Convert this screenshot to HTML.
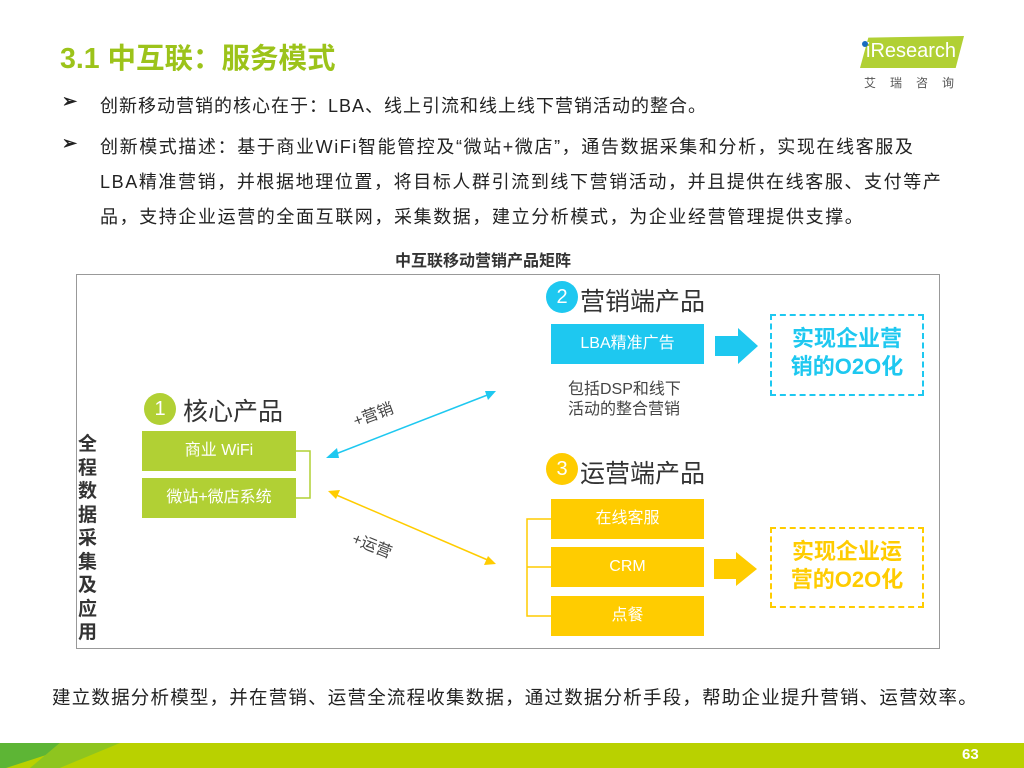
<!DOCTYPE html>
<html><head><meta charset="utf-8"><style>
*{margin:0;padding:0;box-sizing:border-box}
body{width:1024px;height:768px;position:relative;background:#fff;font-family:"Liberation Sans","Noto Sans CJK SC",sans-serif;color:#222;overflow:hidden}
.a{position:absolute;white-space:nowrap}
.box{position:absolute;color:#fff;text-align:center;font-size:16px}
.g{background:#b1d034}.b{background:#1ec8f0}.y{background:#ffcc00}
.circ{position:absolute;width:32px;height:32px;border-radius:50%;color:#fff;font-size:20px;text-align:center;line-height:32px}
.hd{font-size:25px;color:#333}
.dash{position:absolute;border:2px dashed;text-align:center;font-weight:bold;font-size:22px;line-height:28px;padding-top:9px}
.bul{font-size:18px;letter-spacing:1.6px;color:#222}
</style></head><body>
<div class="a" style="left:60px;top:36px;font-size:28.5px;font-weight:bold;color:#9cc31a">3.1 中互联：服务模式</div>
<div class="a" style="left:860px;top:36px;width:104px;height:32px;background:#b1d034;clip-path:polygon(8% 5%,100% 0,92% 100%,0 100%)"></div>
<div class="a" style="left:866px;top:40px;font-size:20px;color:#fff">iResearch</div>
<div class="a" style="left:862px;top:41px;width:6px;height:6px;border-radius:50%;background:#1a6cc0"></div>
<div class="a" style="left:864px;top:74px;font-size:12px;color:#555;letter-spacing:14px">艾瑞咨询</div>

<div class="a bul" style="left:62px;top:91px;font-weight:bold">➢</div>
<div class="a bul" style="left:100px;top:92px;letter-spacing:1px">创新移动营销的核心在于：LBA、线上引流和线上线下营销活动的整合。</div>
<div class="a bul" style="left:62px;top:133px;font-weight:bold">➢</div>
<div class="a bul" style="left:100px;top:130px;line-height:35px">创新模式描述：基于商业WiFi智能管控及“微站+微店”，通告数据采集和分析，实现在线客服及<br>LBA精准营销，并根据地理位置，将目标人群引流到线下营销活动，并且提供在线客服、支付等产<br>品，支持企业运营的全面互联网，采集数据，建立分析模式，为企业经营管理提供支撑。</div>

<div class="a" style="left:395px;top:247px;font-size:16px;font-weight:bold;color:#333">中互联移动营销产品矩阵</div>
<div class="a" style="left:76px;top:274px;width:864px;height:375px;border:1px solid #999"></div>

<div class="a" style="left:78px;top:433px;width:22px;font-size:19px;font-weight:bold;line-height:23.5px;white-space:normal;color:#333">全程数据采集及应用</div>

<div class="circ g" style="left:144px;top:393px">1</div>
<div class="a hd" style="left:183px;top:392px">核心产品</div>
<div class="box g" style="left:142px;top:431px;width:154px;height:40px;line-height:40px">商业 WiFi</div>
<div class="box g" style="left:142px;top:478px;width:154px;height:40px;line-height:40px">微站+微店系统</div>

<svg class="a" style="left:0;top:0" width="1024" height="768">
<polyline points="296,451 310,451 310,498 296,498" fill="none" stroke="#b1d034" stroke-width="1.5"/>
<polyline points="551,519 527,519 527,616 551,616" fill="none" stroke="#ffcc00" stroke-width="1.5"/>
<line x1="551" y1="567" x2="527" y2="567" stroke="#ffcc00" stroke-width="1.5"/>
<line x1="333" y1="455" x2="490" y2="394" stroke="#1ec8f0" stroke-width="1.5"/>
<polygon points="326,458 337,448 339,458" fill="#1ec8f0"/>
<polygon points="496,391 485,391 488,400" fill="#1ec8f0"/>
<line x1="334" y1="494" x2="490" y2="561" stroke="#ffcc00" stroke-width="1.5"/>
<polygon points="328,491 340,490 336,499" fill="#ffcc00"/>
<polygon points="496,564 484,565 488,556" fill="#ffcc00"/>
<polygon points="715,336 738,336 738,328 758,346 738,364 738,356 715,356" fill="#1ec8f0"/>
<polygon points="714,559 736,559 736,552 757,569 736,586 736,579 714,579" fill="#ffcc00"/>
</svg>
<div class="a" style="left:352px;top:401px;font-size:16px;color:#444;transform:rotate(-20deg)">+营销</div>
<div class="a" style="left:352px;top:532px;font-size:16px;color:#444;transform:rotate(22deg)">+运营</div>

<div class="circ b" style="left:546px;top:281px">2</div>
<div class="a hd" style="left:580px;top:282px">营销端产品</div>
<div class="box b" style="left:551px;top:324px;width:153px;height:40px;line-height:40px">LBA精准广告</div>
<div class="a" style="left:568px;top:380px;font-size:16px;color:#444;line-height:20px">包括DSP和线下<br>活动的整合营销</div>
<div class="dash" style="left:770px;top:314px;width:154px;height:82px;border-color:#1ec8f0;color:#1ec8f0">实现企业营<br>销的O2O化</div>

<div class="circ y" style="left:546px;top:453px">3</div>
<div class="a hd" style="left:580px;top:454px">运营端产品</div>
<div class="box y" style="left:551px;top:499px;width:153px;height:40px;line-height:40px">在线客服</div>
<div class="box y" style="left:551px;top:547px;width:153px;height:40px;line-height:40px">CRM</div>
<div class="box y" style="left:551px;top:596px;width:153px;height:40px;line-height:40px">点餐</div>
<div class="dash" style="left:770px;top:527px;width:154px;height:81px;border-color:#ffcc00;color:#ffcc00">实现企业运<br>营的O2O化</div>

<div class="a" style="left:52px;top:684px;font-size:18.5px;letter-spacing:1.2px;color:#222">建立数据分析模型，并在营销、运营全流程收集数据，通过数据分析手段，帮助企业提升营销、运营效率。</div>

<div class="a" style="left:0;top:743px;width:1024px;height:25px;background:#b9d100"></div>
<div class="a" style="left:0;top:743px;width:60px;height:25px;background:#5db535;clip-path:polygon(0 0,100% 0,100% 30%,10% 100%,0 100%)"></div>
<div class="a" style="left:30px;top:743px;width:90px;height:25px;background:#8ec51f;clip-path:polygon(33% 0,100% 0,33% 100%,0 100%,0 100%)"></div>
<div class="a" style="left:962px;top:746px;font-size:15px;font-weight:bold;color:#fff">63</div>
</body></html>
